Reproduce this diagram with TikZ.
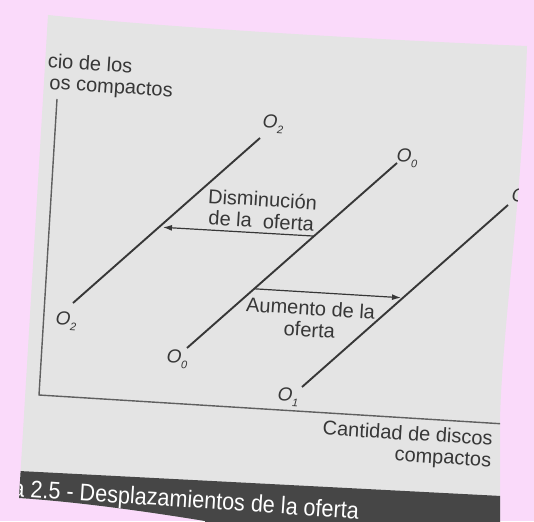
\documentclass[tikz,border=0pt]{standalone}
\usepackage{fontspec}
\setmainfont{Liberation Sans}
\usetikzlibrary{arrows.meta}
\definecolor{bgpink}{RGB}{250,218,250}
\definecolor{pagegray}{RGB}{228,228,228}
\definecolor{bardark}{RGB}{70,70,70}
\definecolor{inkgray}{RGB}{55,55,55}
\tikzstyle{curve} = [draw=inkgray, line width=1.9pt]
\tikzstyle{axis} = [draw=inkgray!80, line width=1.4pt]
\tikzstyle{shiftarrow} = [draw=inkgray, line width=1.2pt, -{Latex[length=9pt,width=6pt]}]
\tikzstyle{lbl} = [text=inkgray, rotate=-3.6, inner sep=0pt, font=\fontsize{20}{21.5}\selectfont]
\tikzstyle{curvename} = [lbl, font=\fontsize{19}{21}\selectfont\itshape]
\newcommand{\oname}[1]{O\raisebox{-0.45ex}{\fontsize{11}{11}\selectfont #1}}
\newcommand{\pageoutline}{(48,15) .. controls (160,27) and (380,40) .. (527,46) .. controls (522,200) and (502,330) .. (500,420) -- (500,530) -- (205,530) -- (205,521) .. controls (150,512) and (80,502) .. (19,498) -- cycle}

\begin{document}
\begin{tikzpicture}[x=1pt,y=-1pt]
        \useasboundingbox (0,0) rectangle (534,521);
        \fill[bgpink] (0,0) rectangle (534,521);
        \fill[pagegray] \pageoutline;
        \begin{scope}
        \clip \pageoutline;
        \fill[bardark] (0,470) -- (540,498) -- (540,540) -- (0,540) -- cycle;
        \node[anchor=base west, rotate=-3.8, xscale=0.9, inner sep=0pt, text=white, font=\fontsize{24}{24}\selectfont](caption) at (12,496){a 2.5 - Desplazamientos de la oferta};
        \coordinate (ytop) at (57,99);
        \coordinate (origin) at (39,395);
        \coordinate (xend) at (505,424);
        \draw[axis] (ytop) -- (origin) -- (xend);
        \coordinate (o2a) at (260,138);
        \coordinate (o2b) at (73,303);
        \coordinate (o0a) at (397,163);
        \coordinate (o0b) at (187,348);
        \coordinate (o1a) at (508,205);
        \coordinate (o1b) at (302,387);
        \draw[curve] (o2a) -- (o2b);
        \draw[curve] (o0a) -- (o0b);
        \draw[curve] (o1a) -- (o1b);
        \node[curvename](o2top) at (273,124){\oname{2}};
        \node[curvename](o2bot) at (66,321){\oname{2}};
        \node[curvename](o0top) at (407,158){\oname{0}};
        \node[curvename](o0bot) at (177,359){\oname{0}};
        \node[curvename](o1top) at (522,198){\oname{1}};
        \node[curvename](o1bot) at (288,397){\oname{1}};
        \path (o0a) -- (o0b) coordinate[pos=0.395] (dstart) coordinate[pos=0.68] (astart);
        \path (o2a) -- (o2b) coordinate[pos=0.54] (dend);
        \path (o1a) -- (o1b) coordinate[pos=0.51] (aend);
        \draw[shiftarrow, shorten >=4pt](dstart) -- (dend);
        \draw[shiftarrow, shorten >=2pt](astart) -- (aend);
        \node[lbl, align=center](decrease) at (262,210){Disminución\\de la~ oferta};
        \node[lbl, align=center](increase) at (310,319){Aumento de la\\oferta};
        \node[lbl, align=left, anchor=base west](ytitle) at (46,89){cio de los\\\hspace*{3pt}os compactos};
        \node[lbl, align=right, anchor=base east](xtitle) at (491,467){Cantidad de discos\\compactos};
        \end{scope}
      \end{tikzpicture}
\end{document}
